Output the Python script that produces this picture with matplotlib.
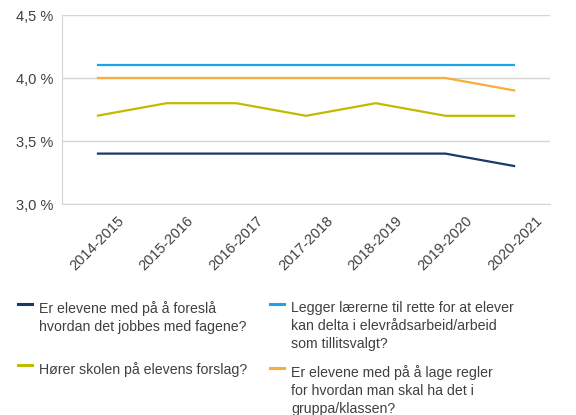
import matplotlib.pyplot as plt
from matplotlib.lines import Line2D
from matplotlib.ticker import FixedLocator

plt.rcParams['font.family'] = ['Liberation Sans', 'DejaVu Sans']

years = ["2014-2015", "2015-2016", "2016-2017", "2017-2018",
         "2018-2019", "2019-2020", "2020-2021"]
foreslaa_fag = [3.4, 3.4, 3.4, 3.4, 3.4, 3.4, 3.3]
elevraad = [4.1, 4.1, 4.1, 4.1, 4.1, 4.1, 4.1]
hoerer_forslag = [3.7, 3.8, 3.8, 3.7, 3.8, 3.7, 3.7]
lage_regler = [4.0, 4.0, 4.0, 4.0, 4.0, 4.0, 3.9]
y_ticks = [3.0, 3.5, 4.0, 4.5]

labels = [
    "Er elevene med på å foreslå\nhvordan det jobbes med fagene?",
    "Legger lærerne til rette for at elever\nkan delta i elevrådsarbeid/arbeid\nsom tillitsvalgt?",
    "Hører skolen på elevens forslag?",
    "Er elevene med på å lage regler\nfor hvordan man skal ha det i\ngruppa/klassen?",
]
series = [foreslaa_fag, elevraad, hoerer_forslag, lage_regler]
colors = ["#17396b", "#1ba5e6", "#bfbc00", "#f8ad3c"]

txt = "#404040"
grid = "#d4d4d4"

fig = plt.figure(figsize=(5.76, 4.15), dpi=100)
ax = fig.add_axes([62 / 576, 1 - 204 / 415, 488 / 576, 189 / 415])

x = range(len(years))
for vals, c in zip(series, colors):
    ax.plot(x, vals, color=c, lw=1.6, solid_capstyle="butt")

ax.set_xlim(-0.5, len(years) - 0.5)
ax.set_ylim(3.0, 4.5)
ax.yaxis.set_major_locator(FixedLocator(y_ticks))
ax.set_yticklabels([f"{v:.1f} %".replace(".", ",") for v in y_ticks])
ax.set_xticks(list(x))
ax.set_xticklabels(years, rotation=45, ha="center", va="top")
ax.tick_params(length=0, labelsize=10.5, colors=txt, pad=6)
ax.tick_params(axis="x", pad=7)
ax.grid(axis="y", color=grid, lw=1)
ax.set_axisbelow(True)
for s in ["top", "right"]:
    ax.spines[s].set_visible(False)
ax.spines["left"].set_color(grid)
ax.spines["bottom"].set_color(grid)

# legend, two columns drawn by hand
positions = [(18, 308), (270, 308), (18, 369), (270, 372)]
for (px, py), lab, c in zip(positions, labels, colors):
    fig.add_artist(Line2D([px / 576, (px + 14) / 576],
                          [1 - (py - 4) / 415, 1 - (py - 4) / 415],
                          color=c, lw=2.2))
    fig.text((px + 21) / 576, 1 - (py - 7) / 415, lab, fontsize=10.2,
             color=txt, va="top", ha="left", linespacing=1.38)

fig.savefig("out.png", dpi=100)
